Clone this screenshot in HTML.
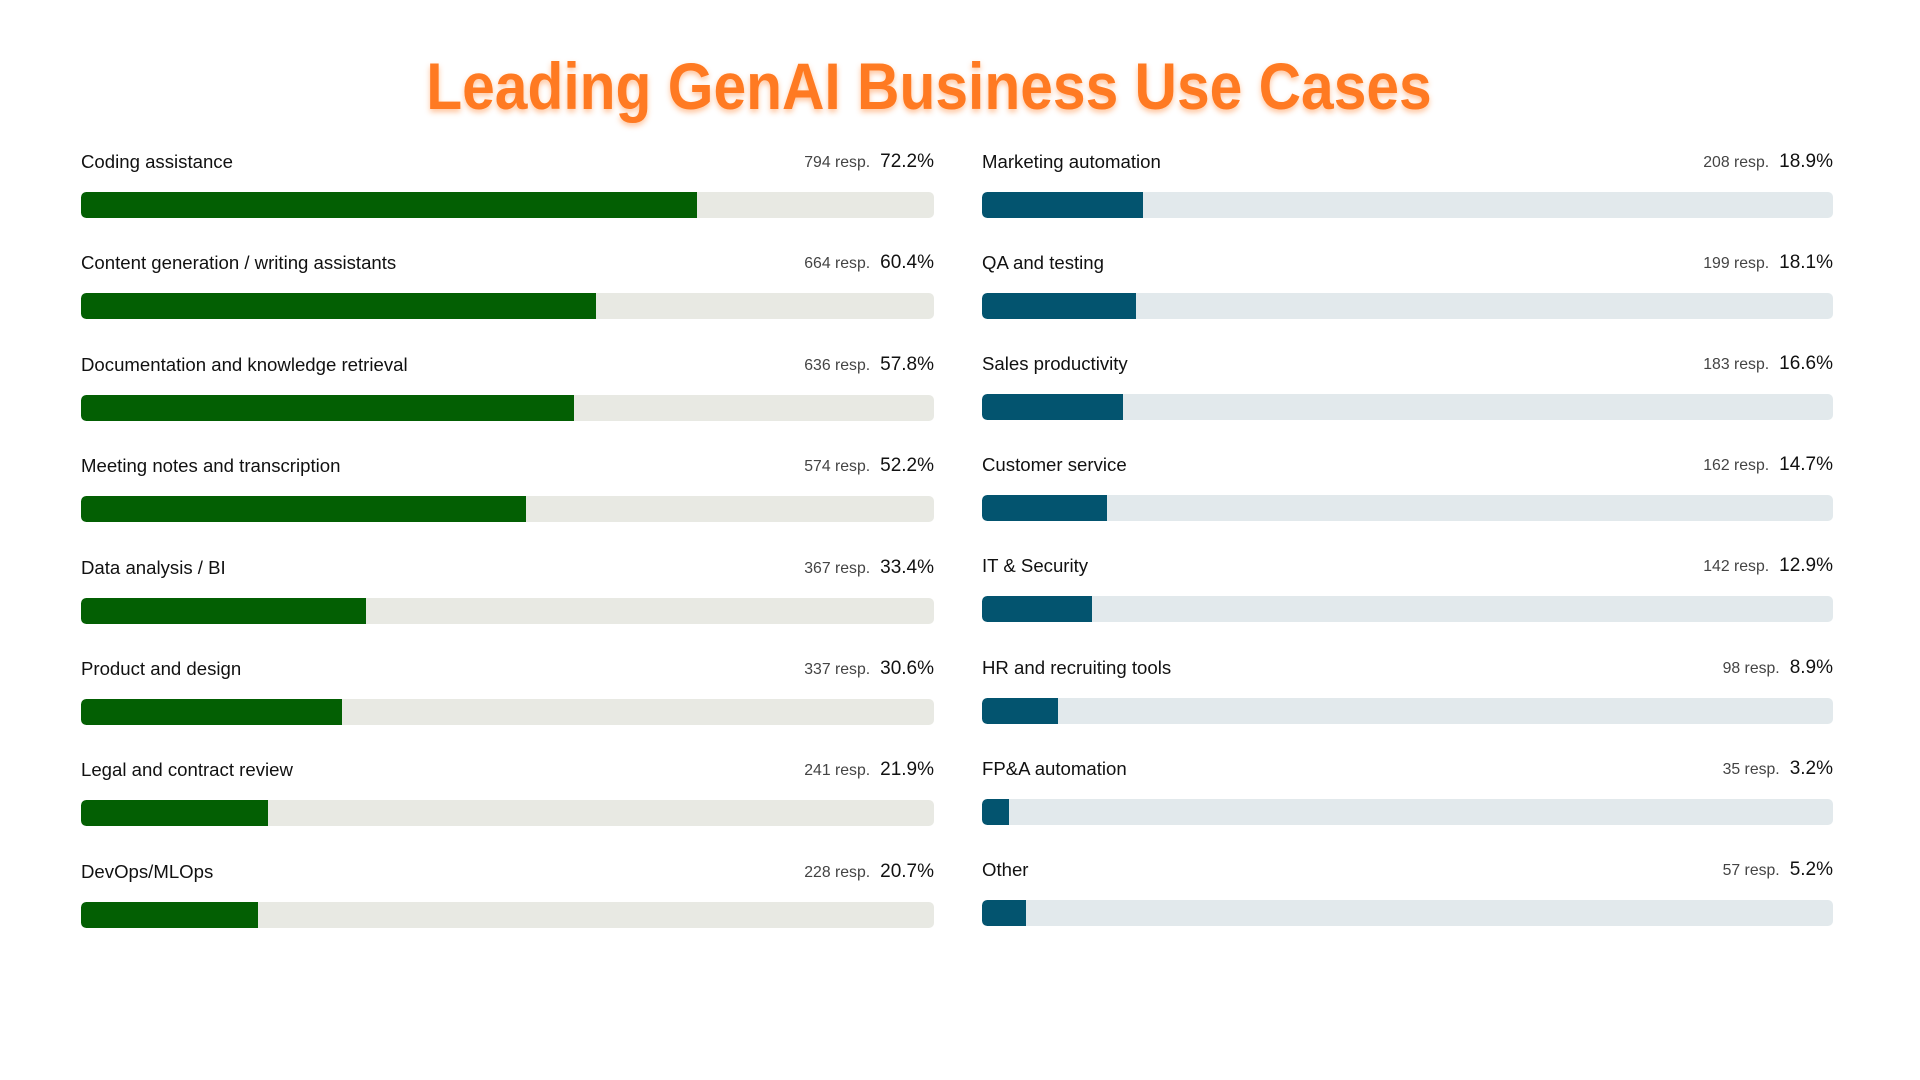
<!DOCTYPE html>
<html><head><meta charset="utf-8"><style>
html,body{margin:0;padding:0;background:#fff;width:1920px;height:1080px;overflow:hidden;font-family:"Liberation Sans",Arial,sans-serif;}
.title{position:absolute;left:0;width:1858px;top:48px;text-align:center;font-family:"Liberation Sans",sans-serif;font-weight:bold;font-size:66px;color:#ff7a22;text-shadow:0 3px 6px rgba(255,122,34,0.45);transform:scaleX(0.89);transform-origin:929px 0;}
.row{position:absolute;height:70px;}
.lab{position:absolute;left:0;top:0;height:22px;line-height:22px;font-size:18.6px;color:#111;}
.val{position:absolute;right:0;top:0;height:22px;line-height:22px;display:flex;align-items:baseline;gap:10px;}
.resp{font-size:15.8px;color:#444;}
.pct{font-size:19px;color:#111;}
.track{position:absolute;left:0;right:0;top:41px;height:26px;border-radius:5px;overflow:hidden;}
.fill{position:absolute;left:0;top:0;bottom:0;border-radius:5px 0 0 5px;}
.g .track{background:#e8e9e3}.g .fill{background:#035f03}
.b .track{background:#e2e9ec}.b .fill{background:#03546f}
</style></head><body>
<div class="title">Leading GenAI Business Use Cases</div>
<div id="c"></div>
<script>
var L=[["Coding assistance",794,72.2],["Content generation / writing assistants",664,60.4],["Documentation and knowledge retrieval",636,57.8],["Meeting notes and transcription",574,52.2],["Data analysis / BI",367,33.4],["Product and design",337,30.6],["Legal and contract review",241,21.9],["DevOps/MLOps",228,20.7]];
var R=[["Marketing automation",208,18.9],["QA and testing",199,18.1],["Sales productivity",183,16.6],["Customer service",162,14.7],["IT & Security",142,12.9],["HR and recruiting tools",98,8.9],["FP&A automation",35,3.2],["Other",57,5.2]];
var h="";
function add(arr,x,w,cls,pitch){arr.forEach(function(d,i){var y=151+i*pitch;
h+='<div class="row '+cls+'" style="left:'+x+'px;top:'+y+'px;width:'+w+'px"><div class="lab">'+d[0].replace("&","&amp;")+'</div><div class="val"><span class="resp">'+d[1]+' resp.</span><span class="pct">'+d[2].toFixed(1)+'%</span></div><div class="track"><div class="fill" style="width:'+d[2]+'%"></div></div></div>';});}
add(L,81,853,"g",101.4);add(R,982,851,"b",101.1);
document.getElementById("c").innerHTML=h;
</script>
</body></html>
